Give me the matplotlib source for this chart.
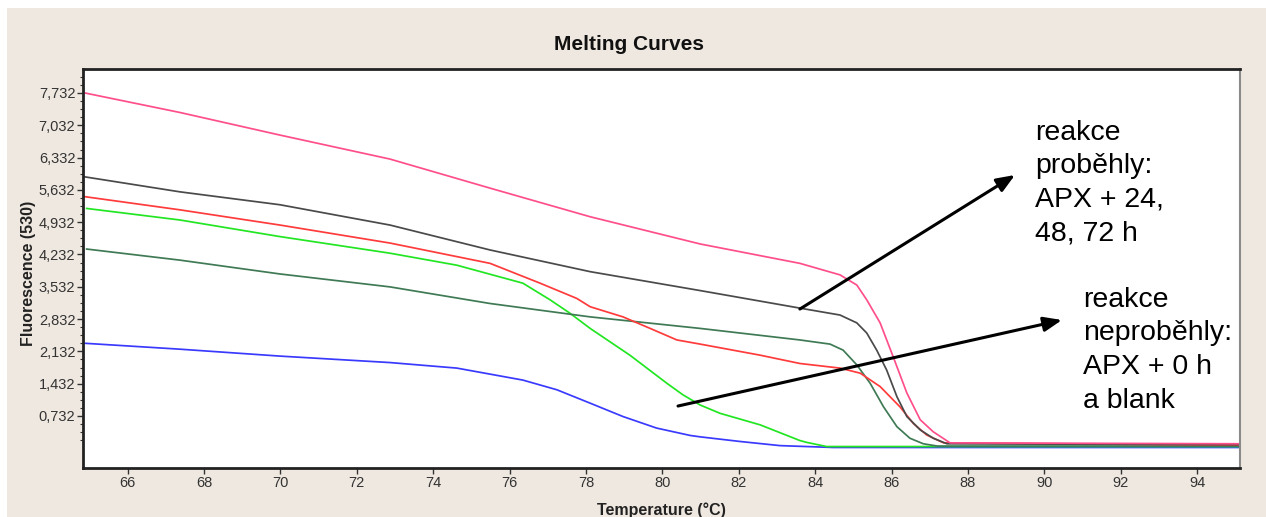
import numpy as np
import matplotlib
matplotlib.use("Agg")
import matplotlib.pyplot as plt
from matplotlib.patches import Rectangle
from matplotlib.ticker import FixedLocator, FuncFormatter

W, H = 1266, 517

# melting curves (temperature in degC, fluorescence)
t_pink = [64.84, 67.37, 69.99, 72.87, 75.49, 78.11, 80.99, 83.60, 84.65, 85.09,
          85.35, 85.70, 86.04, 86.40, 86.75, 87.09, 87.53, 95.12]
f_pink = [7.74, 7.31, 6.82, 6.30, 5.67, 5.05, 4.46, 4.04, 3.79, 3.57,
          3.25, 2.75, 2.02, 1.23, 0.65, 0.39, 0.15, 0.13]

t_black = [64.84, 67.37, 69.99, 72.87, 75.49, 78.11, 80.99, 83.60, 84.65, 85.09,
           85.35, 85.61, 85.87, 86.14, 86.40, 86.75, 87.09, 87.45, 95.12]
f_black = [5.92, 5.59, 5.31, 4.87, 4.33, 3.86, 3.45, 3.07, 2.92, 2.75,
           2.53, 2.16, 1.73, 1.15, 0.72, 0.43, 0.25, 0.13, 0.11]

t_red = [64.84, 67.37, 69.99, 72.87, 75.49, 76.80, 77.76, 78.11, 78.97, 79.68,
         80.38, 80.99, 82.56, 83.60, 84.65, 85.18, 85.70, 86.22, 86.57, 86.92,
         87.36, 95.12]
f_red = [5.49, 5.20, 4.87, 4.48, 4.04, 3.61, 3.28, 3.10, 2.88, 2.63,
         2.38, 2.29, 2.05, 1.87, 1.77, 1.66, 1.37, 0.93, 0.57, 0.32,
         0.15, 0.10]

t_green = [64.93, 67.37, 69.99, 72.87, 74.62, 76.35, 77.06, 77.58, 78.11, 79.15,
           80.12, 80.54, 80.99, 81.51, 82.56, 83.60, 83.78, 84.30, 95.12]
f_green = [5.23, 4.98, 4.62, 4.26, 4.00, 3.61, 3.25, 2.96, 2.63, 2.05,
           1.44, 1.19, 0.97, 0.79, 0.54, 0.20, 0.16, 0.07, 0.07]

t_dkgreen = [64.93, 67.37, 69.99, 72.87, 75.49, 78.11, 80.99, 83.60, 84.39, 84.73,
             85.09, 85.44, 85.79, 86.14, 86.48, 86.83, 87.20, 95.12]
f_dkgreen = [4.35, 4.11, 3.81, 3.53, 3.17, 2.88, 2.63, 2.38, 2.29, 2.16,
             1.84, 1.44, 0.93, 0.50, 0.25, 0.13, 0.08, 0.08]

t_blue = [64.84, 67.37, 69.99, 72.87, 74.62, 76.35, 77.24, 78.11, 78.97, 79.85,
          80.73, 80.99, 82.03, 83.08, 84.47, 95.12]
f_blue = [2.31, 2.18, 2.03, 1.89, 1.77, 1.51, 1.30, 1.01, 0.72, 0.47,
          0.31, 0.28, 0.18, 0.09, 0.05, 0.05]

x_ticks = [66, 68, 70, 72, 74, 76, 78, 80, 82, 84, 86, 88, 90, 92, 94]
y_ticks = [0.732, 1.432, 2.132, 2.832, 3.532, 4.232, 4.932, 5.632, 6.332, 7.032, 7.732]

title = "Melting Curves"
x_label = "Temperature (°C)"
y_label = "Fluorescence (530)"
note_done = ["reakce", "proběhly:", "APX + 24,", "48, 72 h"]
note_not_done = ["reakce", "neproběhly:", "APX + 0 h", "a blank"]


def fx(px):
    return px / W


def fy(py):
    return 1 - py / H


sans = ['Liberation Sans', 'DejaVu Sans']

fig = plt.figure(figsize=(W / 100, H / 100), dpi=100, facecolor='white')
fig.patches.append(Rectangle((fx(7), 0), 1 - fx(7), fy(8), transform=fig.transFigure,
                             facecolor='#efe8e0', edgecolor='none', zorder=-5))

ax = fig.add_axes([fx(83), fy(468), fx(1240) - fx(83), fy(69) - fy(468)])
ax.set_facecolor('white')

ax.plot(t_blue, f_blue, color='#3a3aff', lw=1.25)
ax.plot(t_green, f_green, color='#22e622', lw=1.25)
ax.plot(t_dkgreen, f_dkgreen, color='#3f7a55', lw=1.25)
ax.plot(t_red, f_red, color='#ff3b3b', lw=1.25)
ax.plot(t_black, f_black, color='#4a4a4a', lw=1.25)
ax.plot(t_pink, f_pink, color='#ff4f8a', lw=1.25)

ax.set_xlim(64.835, 95.12)
ax.set_ylim(-0.395, 8.252)

ax.xaxis.set_major_locator(FixedLocator(x_ticks))
ax.yaxis.set_major_locator(FixedLocator(y_ticks))
ax.yaxis.set_minor_locator(FixedLocator(np.arange(0.207, 8.2, 0.175)))
ax.yaxis.set_major_formatter(FuncFormatter(lambda v, p: f"{v:.3f}".replace('.', ',')))

ax.tick_params(which='major', length=4, width=1, color='#333333', labelcolor='#333333',
               labelsize=10.5, pad=1.5)
ax.tick_params(which='minor', length=2.5, width=0.8, color='#333333')
for lab in ax.get_xticklabels() + ax.get_yticklabels():
    lab.set_family(sans)

for side in ['left', 'bottom', 'top']:
    ax.spines[side].set_color('#222222')
    ax.spines[side].set_linewidth(2)
ax.spines['right'].set_color('#8a8a8a')
ax.spines['right'].set_linewidth(1.5)

fig.text(fx(629), fy(50), title, ha='center', va='baseline', fontsize=15,
         weight='bold', family=sans, color='#111111')
fig.text(fx(29), fy(273), y_label, ha='center', va='center', rotation=90, fontsize=11.5,
         weight='bold', family=sans, color='#222222')
fig.text(fx(661), fy(502), x_label, ha='center', va='top', fontsize=11.5,
         weight='bold', family=sans, color='#222222')

# arrows from the curves to the notes
arrow = dict(arrowstyle='-|>,head_length=0.55,head_width=0.22', lw=2.2, color='black',
             mutation_scale=20, shrinkA=0, shrinkB=0)
ax.annotate('', xy=(89.23, 5.955), xytext=(83.60, 3.05), arrowprops=arrow)
ax.annotate('', xy=(90.46, 2.812), xytext=(80.41, 0.948), arrowprops=arrow)

for i, line in enumerate(note_done):
    fig.text(fx(1035), fy(140 + 33.4 * i), line, ha='left', va='baseline', fontsize=20.5,
             family=sans, color='black')
for i, line in enumerate(note_not_done):
    fig.text(fx(1083), fy(306.7 + 33.8 * i), line, ha='left', va='baseline', fontsize=20.5,
             family=sans, color='black')

fig.savefig('out.png', dpi=100, facecolor=fig.get_facecolor())
